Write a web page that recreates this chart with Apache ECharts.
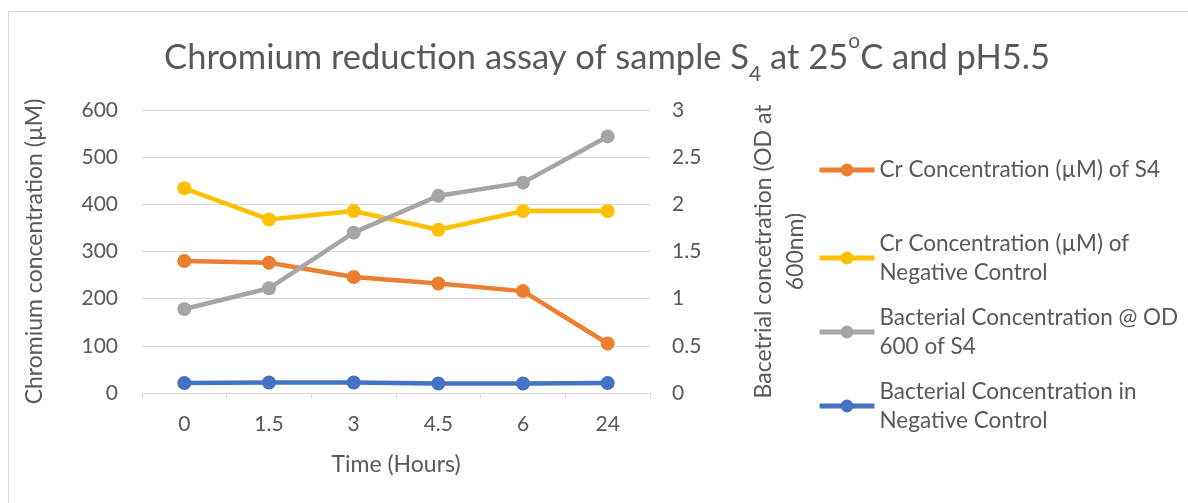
<!DOCTYPE html>
<html>
<head>
<meta charset="utf-8">
<script src="https://cdn.jsdelivr.net/npm/echarts@6/dist/echarts.min.js"></script>
<style>
  html, body { margin: 0; padding: 0; background: #fff; }
  #chart { width: 1188px; height: 503px; }
</style>
</head>
<body>
<div id="chart"></div>
<script>
var hours = ['0', '1.5', '3', '4.5', '6', '24'];
var crS4 = [280, 276, 246, 232, 216, 105];
var crNegative = [434, 368, 386, 346, 386, 386];
var odS4 = [0.89, 1.11, 1.70, 2.09, 2.23, 2.72];
var odNegative = [0.105, 0.112, 0.112, 0.10, 0.10, 0.105];

var names = [
    'Cr Concentration (µM) of S4',
    'Cr Concentration (µM) of Negative Control',
    'Bacterial Concentration @ OD 600 of S4',
    'Bacterial Concentration in Negative Control'
];
var legendText = {};
legendText[names[0]] = 'Cr Concentration (µM) of S4';
legendText[names[1]] = 'Cr Concentration (µM) of\nNegative Control';
legendText[names[2]] = 'Bacterial Concentration @ OD\n600 of S4';
legendText[names[3]] = 'Bacterial Concentration in\nNegative Control';

var colors = ['#ED7D31', '#FFC000', '#A5A5A5', '#4472C4'];
var font = 'Lato, "Noto Sans", sans-serif';
var textColor = '#595959';

var chart = echarts.init(document.getElementById('chart'));

function makeSeries(i, data, axisIndex) {
    return {
        name: names[i],
        type: 'line',
        yAxisIndex: axisIndex,
        data: data,
        symbol: 'circle',
        symbolSize: 14,
        lineStyle: { width: 4.5, color: colors[i] },
        itemStyle: { color: colors[i] },
        emphasis: { disabled: true }
    };
}

// two-line entries get a top padding so the icon sits on the first line
function makeLegend(i, top, twoLines) {
    return {
        data: [names[i]],
        left: 817,
        top: top,
        padding: 0,
        itemWidth: 55,
        itemHeight: 16,
        lineStyle: { width: 5 },
        formatter: function (n) { return legendText[n]; },
        textStyle: {
            fontFamily: font, fontSize: 22.5, color: textColor, lineHeight: 29,
            padding: twoLines ? [29, 0, 0, 0] : 0
        }
    };
}

var option = {
    animation: false,
    color: colors,
    graphic: [{
        type: 'rect',
        shape: { x: 8.5, y: 11.5, width: 1300, height: 600 },
        style: { fill: 'none', stroke: '#D9D9D9', lineWidth: 1 },
        silent: true
    }],
    title: {
        text: '{a|Chromium reduction assay of sample S}{sub|4}{a| at 25}{sup|o}{a|C and pH5.5}',
        left: 602,
        textAlign: 'center',
        top: 26,
        textStyle: {
            fontWeight: 'normal',
            rich: {
                a: { fontFamily: font, fontSize: 34.5, fontWeight: 'normal', color: textColor, verticalAlign: 'bottom', lineHeight: 44 },
                sub: { fontFamily: font, fontSize: 21, fontWeight: 'normal', color: textColor, verticalAlign: 'bottom', lineHeight: 44, padding: [0, 0, -10, 0] },
                sup: { fontFamily: font, fontSize: 21, fontWeight: 'normal', color: textColor, verticalAlign: 'top', lineHeight: 44 }
            }
        }
    },
    legend: [
        makeLegend(0, 155.5, false),
        makeLegend(1, 214.5, true),
        makeLegend(2, 288.5, true),
        makeLegend(3, 362.5, true)
    ],
    grid: { left: 142, right: 538, top: 110, bottom: 110 },
    xAxis: {
        type: 'category',
        data: hours,
        boundaryGap: true,
        name: 'Time (Hours)',
        nameLocation: 'middle',
        nameGap: 60,
        nameTextStyle: { fontFamily: font, fontSize: 23, color: textColor },
        axisLine: { lineStyle: { color: '#D9D9D9', width: 1 } },
        axisTick: { show: true, length: 6, lineStyle: { color: '#D9D9D9' } },
        axisLabel: { fontFamily: font, fontSize: 21, color: textColor, margin: 21 },
        splitLine: { show: false }
    },
    yAxis: [{
        type: 'value',
        min: 0,
        max: 600,
        interval: 100,
        name: 'Chromium concentration (µM)',
        nameLocation: 'middle',
        nameRotate: 90,
        nameGap: 96,
        nameTextStyle: { fontFamily: font, fontSize: 23, color: textColor },
        axisLine: { show: false },
        axisTick: { show: false },
        axisLabel: { fontFamily: font, fontSize: 21, color: textColor, margin: 24 },
        splitLine: { lineStyle: { color: '#D9D9D9', width: 1 } }
    }, {
        type: 'value',
        min: 0,
        max: 3,
        interval: 0.5,
        position: 'right',
        name: 'Bacetrial concetration (OD at\n600nm)',
        nameLocation: 'middle',
        nameRotate: 90,
        nameGap: 98,
        nameTextStyle: { fontFamily: font, fontSize: 23, color: textColor, lineHeight: 32, align: 'center' },
        axisLine: { show: false },
        axisTick: { show: false },
        axisLabel: { fontFamily: font, fontSize: 21, color: textColor, margin: 22 },
        splitLine: { show: false }
    }],
    series: [
        makeSeries(0, crS4, 0),
        makeSeries(1, crNegative, 0),
        makeSeries(2, odS4, 1),
        makeSeries(3, odNegative, 1)
    ]
};

chart.setOption(option);
</script>
</body>
</html>
